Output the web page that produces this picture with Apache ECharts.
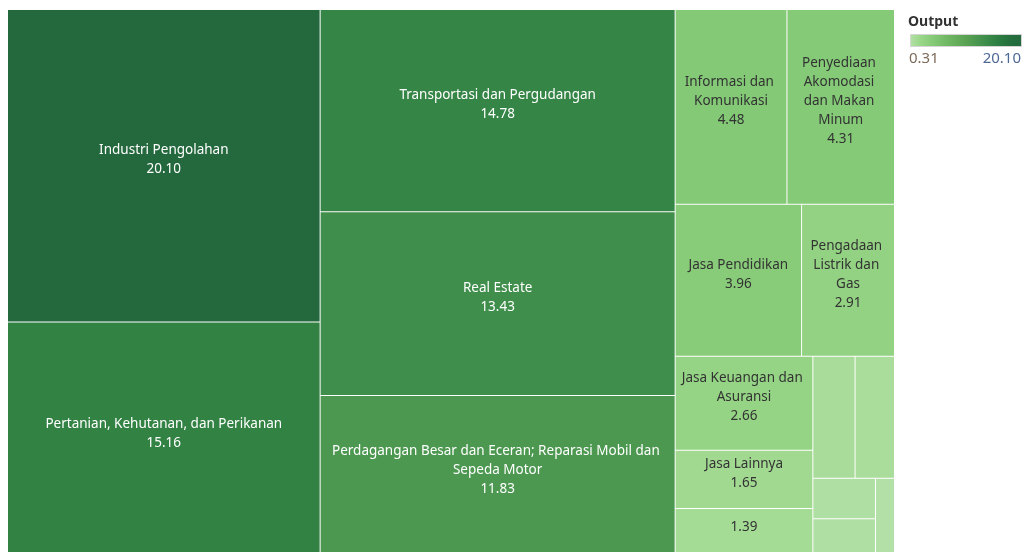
<!DOCTYPE html>
<html>
<head>
<meta charset="utf-8">
<title>Output per Lapangan Usaha</title>
<script src="https://cdn.jsdelivr.net/npm/echarts@6/dist/echarts.min.js"></script>
<style>
  html, body { margin: 0; padding: 0; background: #fff; }
  #main { width: 1022px; height: 552px; }
</style>
</head>
<body>
<div id="main"></div>
<script>
// data lapangan usaha (urut dari terbesar)
var sektor = [
  'Industri Pengolahan',
  'Pertanian, Kehutanan, dan Perikanan',
  'Transportasi dan Pergudangan',
  'Real Estate',
  'Perdagangan Besar dan Eceran; Reparasi Mobil dan Sepeda Motor',
  'Informasi dan Komunikasi',
  'Penyediaan Akomodasi dan Makan Minum',
  'Jasa Pendidikan',
  'Pengadaan Listrik dan Gas',
  'Jasa Keuangan dan Asuransi',
  'Jasa Lainnya',
  'Jasa Kesehatan dan Kegiatan Sosial',
  'Administrasi Pemerintahan, Pertahanan dan Jaminan Sosial Wajib',
  'Jasa Perusahaan',
  'Konstruksi',
  'Pertambangan dan Penggalian',
  'Pengadaan Air, Pengelolaan Sampah, Limbah dan Daur Ulang'
];
var output = [20.10, 15.16, 14.78, 13.43, 11.83, 4.48, 4.31, 3.96, 2.91, 2.66, 1.65, 1.39, 1.06, 0.99, 0.52, 0.50, 0.31];

// palet hijau ala tableau
var paletHijau = ['#b3e0a6', '#98d687', '#85ca77', '#75bc69', '#67af5c', '#59a253', '#49964f', '#398949', '#2b7c40', '#256f3d', '#24693d'];

var minVal = Math.min.apply(null, output);
var maxVal = Math.max.apply(null, output);

var myChart = echarts.init(document.getElementById('main'));

var dataTree = [];
for (var i = 0; i < sektor.length; i++) {
  var v = output[i];
  var item = { name: sektor[i], value: v, label: {} };
  if (v < 1.2) {
    item.label.show = false;          // kotak terlalu kecil
  } else if (v < 1.5) {
    item.label.formatter = function (p) { return p.value.toFixed(2); };
  }
  item.label.color = v > 8 ? '#ffffff' : '#333333';
  dataTree.push(item);
}

var option = {
  backgroundColor: '#fff',
  textStyle: { fontFamily: 'Noto Sans' },
  graphic: [
    {
      type: 'text', left: 908, top: 15,
      style: { text: 'Output', font: 'bold 14px "Noto Sans"', fill: '#333' }
    },
    {
      type: 'rect', left: 910, top: 34,
      shape: { width: 111, height: 12 },
      style: {
        fill: new echarts.graphic.LinearGradient(0, 0, 1, 0,
          paletHijau.map(function (c, idx) { return { offset: idx / (paletHijau.length - 1), color: c }; })),
        stroke: '#d4d4d4', lineWidth: 1
      }
    },
    {
      type: 'text', left: 909, top: 51,
      style: { text: minVal.toFixed(2), font: '15px "Noto Sans"', fill: '#7d6b5a' }
    },
    {
      type: 'text', right: 1, top: 51,
      style: { text: maxVal.toFixed(2), font: '15px "Noto Sans"', fill: '#4e6996' }
    }
  ],
  series: [
    {
      type: 'treemap',
      left: 8,
      top: 10,
      width: 886,
      height: 547,
      roam: false,
      nodeClick: false,
      breadcrumb: { show: false },
      sort: 'desc',
      visualMin: minVal,
      visualMax: maxVal,
      color: paletHijau,
      colorMappingBy: 'value',
      itemStyle: { gapWidth: 1, borderWidth: 0, borderColor: '#fff' },
      label: {
        show: true,
        position: 'inside',
        align: 'center',
        verticalAlign: 'middle',
        overflow: 'break',
        fontSize: 13.5,
        lineHeight: 19,
        fontFamily: 'Noto Sans',
        padding: [0, 6, 16, 6],
        offset: [0, -6],
        formatter: function (p) {
          return p.name + '\n' + p.value.toFixed(2);
        }
      },
      levels: [
        { color: paletHijau, colorMappingBy: 'value', itemStyle: { gapWidth: 1, borderColor: '#fff' } }
      ],
      data: dataTree
    }
  ]
};

myChart.setOption(option);
</script>
</body>
</html>
